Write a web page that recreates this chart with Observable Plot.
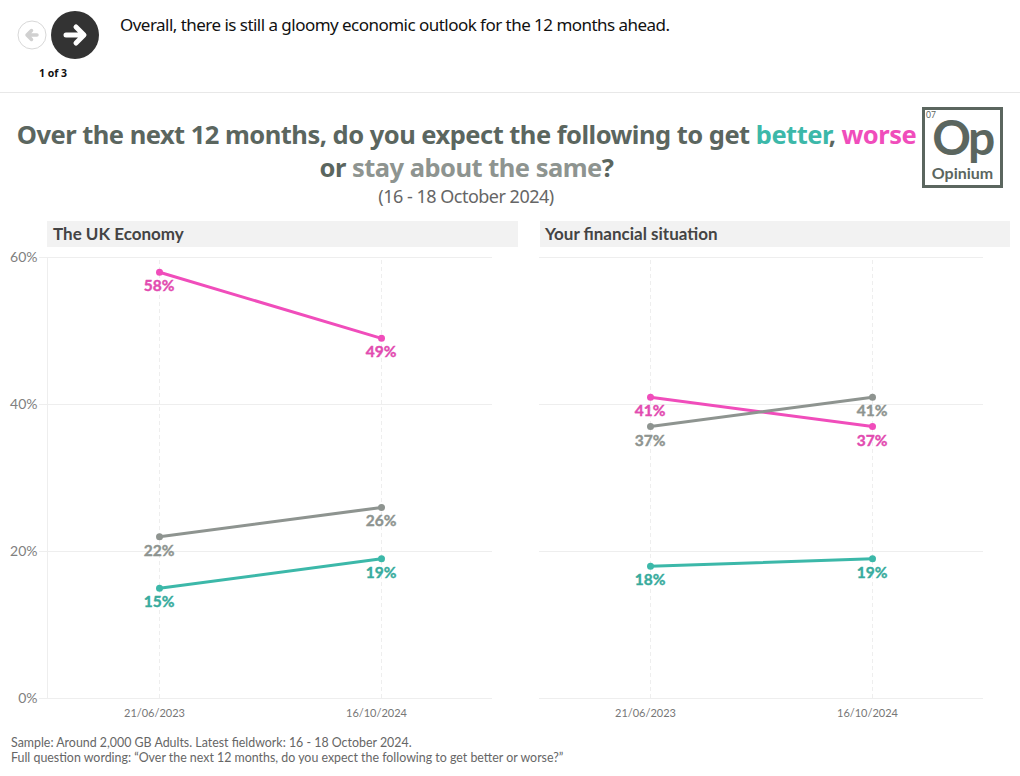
<!DOCTYPE html>
<html><head><meta charset="utf-8">
<script src="https://cdn.jsdelivr.net/npm/d3@7"></script>
<script src="https://cdn.jsdelivr.net/npm/@observablehq/plot@0.6"></script>
<style>
html,body{margin:0;padding:0;background:#fff;overflow:hidden}
#page{position:relative;width:1020px;height:776px;font-family:Lato,sans-serif}
#page>*{position:absolute}
.panel{background:#f2f2f2;height:26px;top:221px;font:bold 17px/26px Lato;color:#444;box-sizing:border-box}
svg text{font-family:Lato}
</style></head><body><div id="page">
<svg style="left:15px;top:8px" width="90" height="54" viewBox="0 0 90 54">
<circle cx="17" cy="27" r="14" fill="#fff" stroke="#d8d8d8"/>
<path d="M22 27H12M16.5 22.5L12 27L16.5 31.5" fill="none" stroke="#d0d0d0" stroke-width="3.5" stroke-linecap="round" stroke-linejoin="round"/>
<circle cx="60" cy="27" r="24" fill="#333"/>
<path d="M51 27H68M61 19L69 27L61 35" fill="none" stroke="#fff" stroke-width="5" stroke-linecap="round" stroke-linejoin="round"/>
</svg>
<div style="left:39px;top:66px;font:bold 10.5px 'Open Sans';color:#111">1 of 3</div>
<div style="left:120px;top:13px;font:17px 'Noto Sans';letter-spacing:-.53px;color:#111;white-space:nowrap">Overall, there is still a gloomy economic outlook for the 12 months ahead.</div>
<div style="left:0;top:92px;width:1020px;height:1px;background:#e8e8e8"></div>
<div style="left:0;width:933px;top:118px;text-align:center;font:bold 25.5px/33px 'Noto Sans';letter-spacing:-.52px;color:#5b665f">Over the next 12 months, do you expect the following to get <span style="color:#3cb8a9">better</span>, <span style="color:#f04dbb">worse</span><br>or <span style="color:#8e9490">stay about the same</span>?</div>
<div style="left:0;width:932px;top:184px;text-align:center;font:18px 'Noto Sans';letter-spacing:-.5px;color:#666">(16 - 18 October 2024)</div>
<div style="left:922px;top:107px;width:81px;height:81px;box-sizing:border-box;border:3px solid #5b665f;color:#5b665f">
<span style="position:absolute;left:1px;top:0;font:8.5px/11px Lato">07</span>
<span style="position:absolute;left:0;width:75px;text-align:center;top:-1px;font:bold 48px/56px Lato;letter-spacing:-2.5px">Op</span>
<span style="position:absolute;left:0;width:75px;text-align:center;top:53px;font:bold 16px/20px Lato">Opinium</span>
</div>
<div class="panel" style="left:47px;width:471px;padding-left:6px">The UK Economy</div>
<div class="panel" style="left:540px;width:470px;padding-left:5px">Your financial situation</div>
<div id="left" style="left:0;top:240px"></div>
<div id="right" style="left:492px;top:240px"></div>
<div style="left:11px;top:735px;font:12.4px/15px Lato;color:#666;white-space:nowrap">Sample: Around 2,000 GB Adults. Latest fieldwork: 16 - 18 October 2024.<br>Full question wording: “Over the next 12 months, do you expect the following to get better or worse?”</div>
</div>
<script>
const dates = ["21/06/2023", "16/10/2024"];
const seriesNames = ["Better", "Worse", "Same"];
const colors = {Better: "#3cb8a9", Worse: "#f04dbb", Same: "#8e9490"};
const labelColors = {Better: "#38ab9d", Worse: "#e24bb0", Same: "#8e9490"};
const yTicks = [0, 20, 40, 60];

const economyBetter = [15, 19];
const economyWorse = [58, 49];
const economySame = [22, 26];
const financesBetter = [18, 19];
const financesWorse = [41, 37];
const financesSame = [37, 41];

function rows(better, worse, same) {
  const values = {Better: better, Worse: worse, Same: same};
  return seriesNames.flatMap(s => dates.map((d, i) => ({series: s, date: d, value: values[s][i]})));
}
function panel(data, showLabels, width, marginRight) {
  return Plot.plot({
    width, height: 480,
    marginLeft: 47, marginRight, marginTop: 17, marginBottom: 22,
    style: {background: "transparent", overflow: "visible"},
    x: {type: "point", domain: dates, padding: 0.5, label: null, axis: null},
    y: {domain: [0, 60], label: null, axis: null},
    marks: [
      Plot.ruleY(yTicks, {stroke: "#eeeeee", strokeWidth: 1, strokeOpacity: 1, insetLeft: showLabels ? -8 : 0}),
      showLabels ? Plot.frame({anchor: "left", stroke: "#eeeeee"}) : null,
      showLabels ? Plot.axisY({ticks: yTicks, tickFormat: d => d + "%", tickSize: 0, tickPadding: 10, fontSize: 14, color: "#808080", stroke: "none", anchor: "left", label: null}) : null,
      Plot.ruleX(dates, {y1: 0, y2: 60, stroke: "#eeeeee", strokeDasharray: "4 3"}),
      Plot.axisX({domain: dates, tickSize: 0, tickPadding: 11, dx: -5, fontSize: 11, color: "#777", label: null}),
      Plot.line(data, {x: "date", y: "value", z: "series", stroke: d => colors[d.series], strokeWidth: 3, curve: "linear"}),
      Plot.dot(data, {x: "date", y: "value", r: 3.5, fill: d => colors[d.series]}),
      Plot.text(data, {x: "date", y: "value", text: d => d.value + "%", dy: 14, dx: -0.5, fill: d => labelColors[d.series], stroke: d => labelColors[d.series], strokeWidth: 0.4, fontSize: 15.5, fontWeight: 700})
    ]
  });
}
document.getElementById("left").append(panel(rows(economyBetter, economyWorse, economySame), true, 510, 18));
document.getElementById("right").append(panel(rows(financesBetter, financesWorse, financesSame), false, 510, 19));
</script></body></html>
